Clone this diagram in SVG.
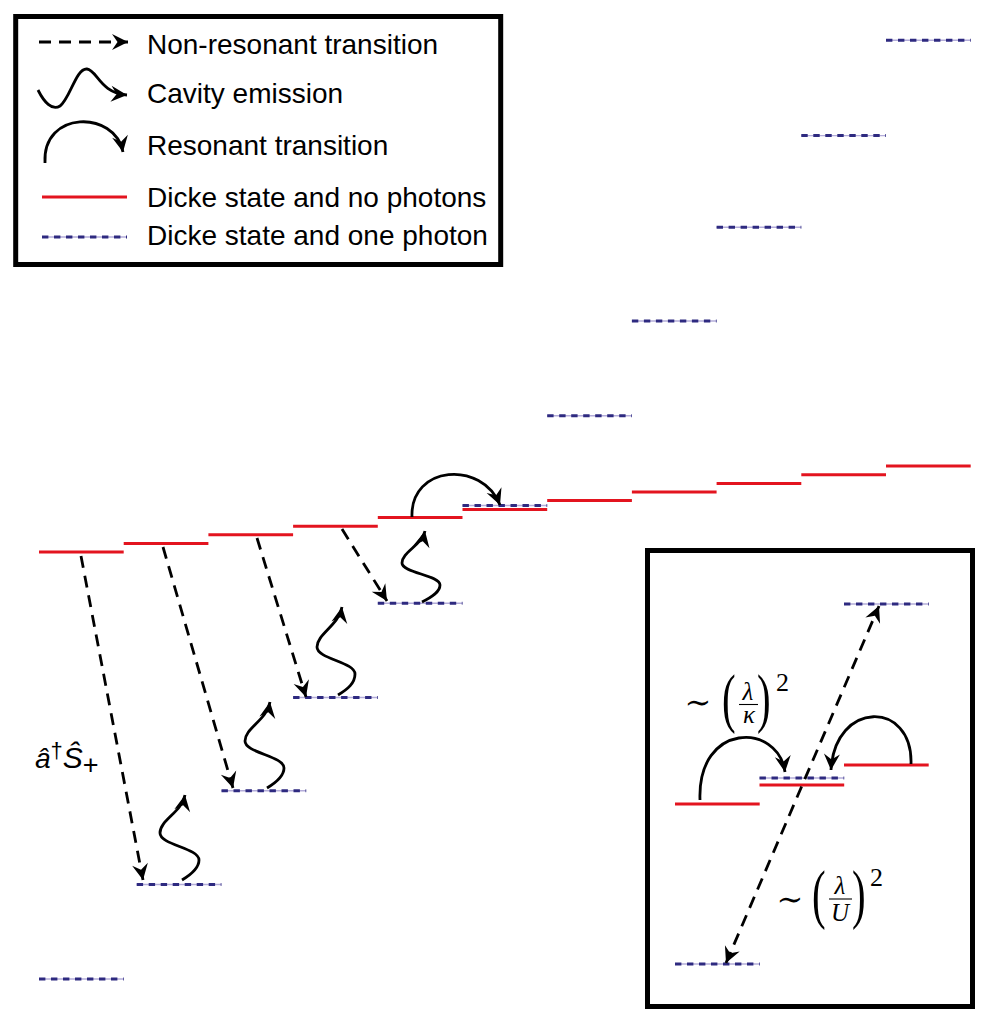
<svg xmlns="http://www.w3.org/2000/svg" xmlns:xlink="http://www.w3.org/1999/xlink" width="993" height="1031" viewBox="0 0 993 1031">
<style>
.red{stroke:#e3141f;stroke-width:3;fill:none}
.bl{stroke:#b3acd9;stroke-width:1.4;fill:none}
.bd{stroke:#2e2a80;stroke-width:3;stroke-dasharray:6.4 5.6;fill:none}
.box{fill:none;stroke:#000;stroke-width:5}
.dsh{fill:none;stroke:#000;stroke-width:2.8;stroke-dasharray:12 8;marker-end:url(#ah)}
.dsh2{fill:none;stroke:#000;stroke-width:2.8;stroke-dasharray:12 8;marker-end:url(#ah);marker-start:url(#ah)}
.crv{fill:none;stroke:#000;stroke-width:2.8;marker-end:url(#ah)}
.lg{font-family:"Liberation Sans",Arial,sans-serif;font-size:28px;fill:#000}
.m{font-family:"Liberation Serif","Times New Roman",serif;fill:#000}
.mi{font-family:"Liberation Serif","Times New Roman",serif;font-style:italic;fill:#000}
.sim{font-family:"DejaVu Serif","Liberation Serif",serif;fill:#000}
</style>
<defs>
<marker id="ah" markerUnits="userSpaceOnUse" markerWidth="24" markerHeight="24" viewBox="-18 -12 24 24" refX="0" refY="0" orient="auto-start-reverse" overflow="visible">
<path d="M0,0 L-16,-8 L-10.5,0 L-16,8 Z" fill="#000"/>
</marker>
<g id="rl"><line class="red" x1="0" y1="0" x2="84.7" y2="0"/></g>
<g id="bll"><line class="bl" x1="0" y1="0" x2="84.7" y2="0"/><line class="bd" x1="0" y1="0" x2="84.7" y2="0"/></g>
</defs>
<rect width="993" height="1031" fill="#fff"/>

<g id="legend">
<rect class="box" x="15.7" y="16.5" width="485" height="248"/>
<path class="dsh" d="M39,42 L128,42"/>
<path class="crv" d="M38,90 C44,102 52,111 60,106 C70,99 76,68 87,69 C97,70 100,93 127,95"/>
<path class="crv" d="M45,163 C42,110 115,110 123,152"/>
<line class="red" x1="42" y1="197" x2="127" y2="197"/>
<line class="bl" x1="42" y1="237" x2="127" y2="237"/><line class="bd" x1="42" y1="237" x2="127" y2="237"/>
<text class="lg" x="147" y="54">Non-resonant transition</text>
<text class="lg" x="147" y="103">Cavity emission</text>
<text class="lg" x="147" y="155">Resonant transition</text>
<text class="lg" x="147" y="206.5">Dicke state and no photons</text>
<text class="lg" x="147" y="245">Dicke state and one photon</text>
</g>

<g id="red-levels">
<g id="r0"><use xlink:href="#rl" x="39" y="552"/></g>
<g id="r1"><use xlink:href="#rl" x="123.7" y="543.4"/></g>
<g id="r2"><use xlink:href="#rl" x="208.4" y="534.8"/></g>
<g id="r3"><use xlink:href="#rl" x="293.1" y="526.2"/></g>
<g id="r4"><use xlink:href="#rl" x="377.8" y="517.6"/></g>
<g id="r5"><use xlink:href="#rl" x="462.5" y="509.5"/></g>
<g id="r6"><use xlink:href="#rl" x="547.2" y="500.6"/></g>
<g id="r7"><use xlink:href="#rl" x="631.9" y="492"/></g>
<g id="r8"><use xlink:href="#rl" x="716.6" y="483.5"/></g>
<g id="r9"><use xlink:href="#rl" x="801.3" y="474.8"/></g>
<g id="r10"><use xlink:href="#rl" x="886" y="466"/></g>
</g>

<g id="blue-levels">
<g id="b0"><use xlink:href="#bll" x="39" y="979"/></g>
<g id="b1"><use xlink:href="#bll" x="136.7" y="884.5"/></g>
<g id="b2"><use xlink:href="#bll" x="221.5" y="790.8"/></g>
<g id="b3"><use xlink:href="#bll" x="293.1" y="697.5"/></g>
<g id="b4"><use xlink:href="#bll" x="377.8" y="603.3"/></g>
<g id="b5"><use xlink:href="#bll" x="462.5" y="505.5"/></g>
<g id="b6"><use xlink:href="#bll" x="547.2" y="415.8"/></g>
<g id="b7"><use xlink:href="#bll" x="631.9" y="321"/></g>
<g id="b8"><use xlink:href="#bll" x="716.6" y="227.2"/></g>
<g id="b9"><use xlink:href="#bll" x="801.3" y="135.6"/></g>
<g id="b10"><use xlink:href="#bll" x="886" y="40.3"/></g>
</g>

<g id="label-op">
<text class="lg" x="35" y="768" font-size="30" font-style="italic">â<tspan dy="-10" font-size="22" font-style="normal">†</tspan><tspan dy="10" font-size="30">Ŝ</tspan><tspan dy="6" font-size="27" font-style="normal">+</tspan></text>
</g>

<g id="inset">
<rect class="box" x="647.5" y="550.5" width="325" height="456"/>
<g id="i-r0"><use xlink:href="#rl" x="675" y="804"/></g>
<g id="i-r1"><use xlink:href="#rl" x="759.5" y="785"/></g>
<g id="i-b1"><use xlink:href="#bll" x="759.5" y="778"/></g>
<g id="i-r2"><use xlink:href="#rl" x="844" y="765"/></g>
<g id="i-b2"><use xlink:href="#bll" x="844" y="604"/></g>
<g id="i-b0"><use xlink:href="#bll" x="675" y="964"/></g>
<g id="label-kappa">
<text class="sim" x="698" y="713" font-size="32" text-anchor="middle">∼</text>
<text class="m" transform="translate(722,720) scale(0.62,1)" font-size="66">(</text>
<text class="mi" x="748" y="700" font-size="25" text-anchor="middle">λ</text>
<line x1="739" y1="704.5" x2="758" y2="704.5" stroke="#000" stroke-width="1.1"/>
<text class="mi" x="749" y="722.5" font-size="25" text-anchor="middle">κ</text>
<text class="m" transform="translate(757,720) scale(0.62,1)" font-size="66">)</text>
<text class="m" x="776" y="691" font-size="26">2</text>
</g>
<g id="label-U">
<text class="sim" x="790" y="910" font-size="32" text-anchor="middle">∼</text>
<text class="m" transform="translate(812,916) scale(0.62,1)" font-size="66">(</text>
<text class="mi" x="840" y="894" font-size="25" text-anchor="middle">λ</text>
<line x1="829" y1="899" x2="852" y2="899" stroke="#000" stroke-width="1.1"/>
<text class="mi" x="840" y="921" font-size="25" text-anchor="middle">U</text>
<text class="m" transform="translate(852,916) scale(0.62,1)" font-size="66">)</text>
<text class="m" x="870" y="886" font-size="26">2</text>
</g>
</g>

<g id="connectors">
<path class="dsh" d="M81,556 L143,880"/>
<path class="dsh" d="M163,547 L233,788"/>
<path class="dsh" d="M257,538 L306,697"/>
<path class="dsh" d="M342,529 L387,601"/>
<path class="crv" transform="translate(182,880)" d="M0,0 C10,-6 17,-12 17,-20 C17,-32 -22,-35 -22,-47 C-22,-60 0,-68 3,-85"/>
<path class="crv" transform="translate(267,788)" d="M0,0 C10,-6 17,-12 17,-20 C17,-32 -22,-35 -22,-47 C-22,-60 0,-68 3,-86"/>
<path class="crv" transform="translate(338,695)" d="M0,0 C10,-6 17,-12 17,-21 C17,-33 -21,-36 -21,-48 C-21,-61 1,-70 4,-88"/>
<path class="crv" transform="translate(422,602)" d="M0,0 C10,-5 18,-10 18,-17 C18,-27 -20,-29 -20,-39 C-20,-50 0,-57 3,-71"/>
<path class="crv" d="M412,517 C410,465 482,460 500,505"/>
<path class="crv" d="M700,800 C697,722 778,722 785,772"/>
<path class="crv" d="M911,764 C913,700 835,700 831,770"/>
<path class="dsh2" d="M726,963 L879,606"/>
</g>
</svg>
